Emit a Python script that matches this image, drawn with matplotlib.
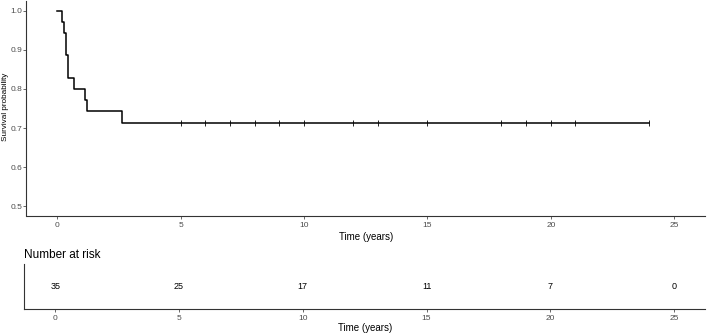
import matplotlib
matplotlib.use("Agg")
import matplotlib.pyplot as plt

plt.rcParams['font.family'] = ['Liberation Sans', 'DejaVu Sans']

# Kaplan-Meier curve (step, post)
km_times = [0.0, 0.19, 0.28, 0.37, 0.44, 0.68, 1.13, 1.19, 2.63, 24.0]
km_surv = [1.0, 0.971, 0.943, 0.886, 0.829, 0.800, 0.771, 0.743, 0.714, 0.714]

# Censoring marks
censor_times = [5, 6, 7, 8, 9, 10, 12, 13, 15, 18, 19, 20, 21, 24]
censor_surv = [0.714] * len(censor_times)

# Risk table
risk_times = [0, 5, 10, 15, 20, 25]
risk_counts = [35, 25, 17, 11, 7, 0]

x_ticks = [0, 5, 10, 15, 20, 25]
y_ticks = [0.5, 0.6, 0.7, 0.8, 0.9, 1.0]

W, H = 707, 334
fig = plt.figure(figsize=(W / 100, H / 100), dpi=100)

grey = '#4D4D4D'
spine_col = '#333333'

def style(ax):
    for s in ['top', 'right']:
        ax.spines[s].set_visible(False)
    for s in ['left', 'bottom']:
        ax.spines[s].set_color(spine_col)
        ax.spines[s].set_linewidth(0.8)
    ax.tick_params(axis='both', colors=grey, labelsize=6, length=2.5, width=0.6,
                   labelcolor=grey, pad=2)
    ax.tick_params(axis='y', pad=0.8, length=2.2)

# main axes
ax = fig.add_axes([26.5 / W, 1 - 216 / H, (705 - 26.5) / W, (216 - 1) / H])
ax.step(km_times, km_surv, where='post', color='black', linewidth=1.1)
ax.plot(censor_times, censor_surv, linestyle='none', marker='|', color='black',
        markersize=4, markeredgewidth=0.6)
ax.set_xlim(-1.25, 26.25)
ax.set_ylim(0.475, 1.025)
ax.set_xticks(x_ticks)
ax.set_yticks(y_ticks)
ax.set_yticklabels([f'{v:.1f}' for v in y_ticks])
style(ax)
ax.set_xlabel('Time (years)', fontsize=7, labelpad=2)
fig.text(2 / W, 1 - 107 / H, 'Survival probability', rotation=90,
         ha='left', va='center', fontsize=5.9, color='black')

# risk table axes
ax2 = fig.add_axes([24.3 / W, 1 - 308.5 / H, (705 - 24.3) / W, (308.5 - 264) / H])
for t, n in zip(risk_times, risk_counts):
    ax2.text(t, 0.5, str(n), ha='center', va='center', fontsize=6.5, color='black')
ax2.set_xlim(-1.25, 26.25)
ax2.set_ylim(0, 1)
ax2.set_xticks(x_ticks)
ax2.set_yticks([])
style(ax2)
ax2.set_xlabel('Time (years)', fontsize=7, labelpad=1)
ax2.set_title('Number at risk', loc='left', fontsize=8.5, pad=4)

fig.savefig('out.png', dpi=100)
